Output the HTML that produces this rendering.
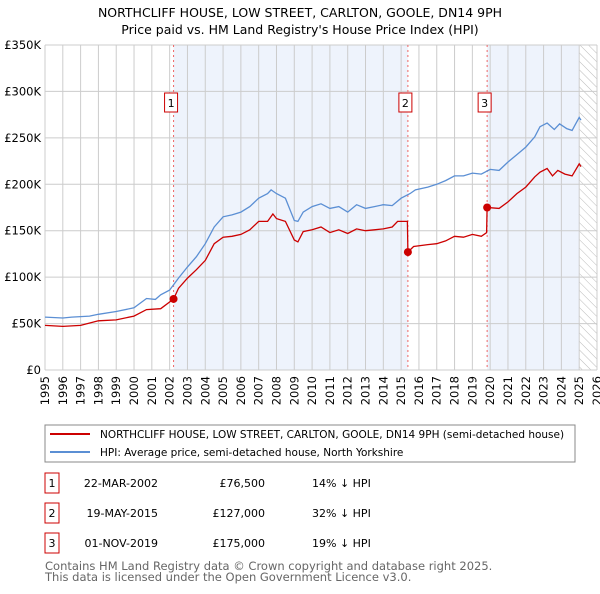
<!DOCTYPE html>
<html><head><meta charset="utf-8"><style>
body{margin:0;background:#fff;font-family:"DejaVu Sans","Liberation Sans",sans-serif;}
svg text{font-family:"DejaVu Sans","Liberation Sans",sans-serif;}
</style></head><body>
<svg id="c" width="600" height="590" viewBox="0 0 600 590" xmlns="http://www.w3.org/2000/svg">
<defs><pattern id="hatch" width="6" height="6" patternUnits="userSpaceOnUse" patternTransform="rotate(-45)"><line x1="0" y1="0" x2="0" y2="6" stroke="#bbb" stroke-width="1"/></pattern></defs>
<text x="300" y="17" text-anchor="middle" font-size="12.5" fill="#000">NORTHCLIFF HOUSE, LOW STREET, CARLTON, GOOLE, DN14 9PH</text>
<text x="300" y="34" text-anchor="middle" font-size="12.5" fill="#000">Price paid vs. HM Land Registry's House Price Index (HPI)</text>
<g id="plot"></g>
<rect x="45" y="425" width="530" height="37" fill="#fff" stroke="#888"/>
<line x1="50" y1="434" x2="90" y2="434" stroke="#cc0000" stroke-width="2"/>
<text x="100" y="438" font-size="10.5">NORTHCLIFF HOUSE, LOW STREET, CARLTON, GOOLE, DN14 9PH (semi-detached house)</text>
<line x1="50" y1="452" x2="90" y2="452" stroke="#5b8fd4" stroke-width="2"/>
<text x="100" y="456" font-size="10.5">HPI: Average price, semi-detached house, North Yorkshire</text>
<g id="table" font-size="11"></g>
<text x="45" y="570" font-size="11.5" fill="#666">Contains HM Land Registry data © Crown copyright and database right 2025.</text>
<text x="45" y="581" font-size="11.5" fill="#666">This data is licensed under the Open Government Licence v3.0.</text>
</svg>
<script>
const hpiYears=[1995,1996,1996.5,1997.5,1998,1999,2000,2000.7,2001.2,2001.5,2002,2002.5,2003,2003.5,2004,2004.5,2005,2005.5,2006,2006.5,2007,2007.5,2007.7,2008,2008.5,2009,2009.2,2009.5,2010,2010.5,2011,2011.5,2012,2012.5,2013,2013.5,2014,2014.5,2015,2015.5,2015.8,2016.5,2017,2017.5,2018,2018.5,2019,2019.5,2020,2020.5,2021,2021.5,2022,2022.5,2022.8,2023.2,2023.6,2023.9,2024.3,2024.6,2025,2025.1];
const hpiValues=[57,56,57,58,60,63,67,77,76,81,86,99,111,122,136,154,165,167,170,176,185,190,194,190,185,161,160,170,176,179,174,176,170,178,174,176,178,177,185,190,194,197,200,204,209,209,212,211,216,215,224,232,240,251,262,266,259,265,260,258,272,269];
const ppYears=[1995,1996,1997,1998,1999,2000,2000.7,2001.5,2002.22,2002.5,2003,2003.5,2004,2004.5,2005,2005.5,2006,2006.5,2007,2007.5,2007.8,2008,2008.5,2009,2009.2,2009.5,2010,2010.5,2011,2011.5,2012,2012.5,2013,2013.5,2014,2014.5,2014.8,2015.35,2015.38,2015.7,2016.5,2017,2017.5,2018,2018.5,2019,2019.5,2019.8,2019.83,2020.5,2021,2021.5,2022,2022.5,2022.8,2023.2,2023.5,2023.8,2024.2,2024.6,2025,2025.1];
const ppValues=[48,47,48,53,54,58,65,66,76.5,88,99,108,118,136,143,144,146,151,160,160,168,163,160,140,138,149,151,154,148,151,147,152,150,151,152,154,160,160,127,133,135,136,139,144,143,146,144,148,175,174,181,190,197,208,213,217,209,215,211,209,222,219];
const saleYears=[2002.22,2015.38,2019.83];
const saleValues=[76.5,127,175];
const saleLabels=["1","2","3"];
const saleDates=["22-MAR-2002","19-MAY-2015","01-NOV-2019"];
const salePrices=["£76,500","£127,000","£175,000"];
const saleDiffs=["14% ↓ HPI","32% ↓ HPI","19% ↓ HPI"];
const yTicks=[0,50,100,150,200,250,300,350];
const yTickLabels=["£0","£50K","£100K","£150K","£200K","£250K","£300K","£350K"];
const xTicks=[1995,1996,1997,1998,1999,2000,2001,2002,2003,2004,2005,2006,2007,2008,2009,2010,2011,2012,2013,2014,2015,2016,2017,2018,2019,2020,2021,2022,2023,2024,2025,2026];

const NS="http://www.w3.org/2000/svg";
const X0=45,X1=597,Y0=370,Y1=45;
const x=v=>X0+(v-1995)/(2026-1995)*(X1-X0);
const y=v=>Y0-v/350*(Y0-Y1);
const g=document.getElementById('plot');
function mk(t,a,p){const e=document.createElementNS(NS,t);for(const k in a)e.setAttribute(k,a[k]);(p||g).appendChild(e);return e;}
let r=mk('rect',{x:x(saleYears[0]),y:Y1,width:x(saleYears[1])-x(saleYears[0]),height:Y0-Y1,fill:'#eef3fc'});


r=mk('rect',{x:x(saleYears[2]),y:Y1,width:x(2025)-x(saleYears[2]),height:Y0-Y1,fill:'#eef3fc'});


r=mk('rect',{x:x(2025),y:Y1,width:X1-x(2025),height:Y0-Y1,fill:'url(#hatch)'});


xTicks.forEach(t=>{
 const l=mk('line',{x1:x(t),x2:x(t),y1:Y1,y2:Y0,stroke:'#ccc','stroke-width':1});
 
 
 const tx=mk('text',{x:0,y:0,'font-size':11.5,'text-anchor':'end',transform:`translate(${x(t)+4},${Y0+6}) rotate(-90)`});
 tx.textContent=t;
 
 
});
yTicks.forEach((t,i)=>{
 const l=mk('line',{x1:X0,x2:X1,y1:y(t),y2:y(t),stroke:'#ccc','stroke-width':1});
 
 
 const tx=mk('text',{x:X0-4,y:y(t)+4,'font-size':11.5,'text-anchor':'end'});
 tx.textContent=yTickLabels[i];
 
 
});
saleYears.forEach((s,i)=>{
 const l=mk('line',{x1:x(s),x2:x(s),y1:Y1,y2:Y0,stroke:'#e66','stroke-width':1,'stroke-dasharray':'2,3'});
 
 
 const b=mk('rect',{x:x(s)-9,y:93,width:13,height:19,fill:'#fff',stroke:'#cc0000'});
 
 
 const t=mk('text',{x:x(s)-2.5,y:107,'font-size':11,'text-anchor':'middle'});
 t.textContent=saleLabels[i];
 
 
});
const path=(xs,vs)=>xs.map((v,i)=>(i?'L':'M')+x(v).toFixed(1)+','+y(vs[i]).toFixed(1)).join('');
let p=mk('path',{d:path(hpiYears,hpiValues),fill:'none',stroke:'#5b8fd4','stroke-width':1.3});


p=mk('path',{d:path(ppYears,ppValues),fill:'none',stroke:'#cc0000','stroke-width':1.3});


saleYears.forEach((s,i)=>{
 const c=mk('circle',{cx:x(s),cy:y(saleValues[i]),r:4,fill:'#cc0000'});
 
 
});
const tb=document.getElementById('table');
saleYears.forEach((s,i)=>{
 const yy=483+i*30;
 const b=mk('rect',{x:45,y:yy-10,width:14,height:20,fill:'#fff',stroke:'#cc0000'},tb);
 
 
 const cells=[[52,saleLabels[i],'middle','table-row-number'],[158,saleDates[i],'end','table-date'],[265,salePrices[i],'end','table-price'],[312,saleDiffs[i],'start','table-hpi-diff']];
 cells.forEach(c=>{
  const t=mk('text',{x:c[0],y:yy+4,'text-anchor':c[2]},tb);
  t.textContent=c[1];
  
  
 });
});
</script>
</body></html>
